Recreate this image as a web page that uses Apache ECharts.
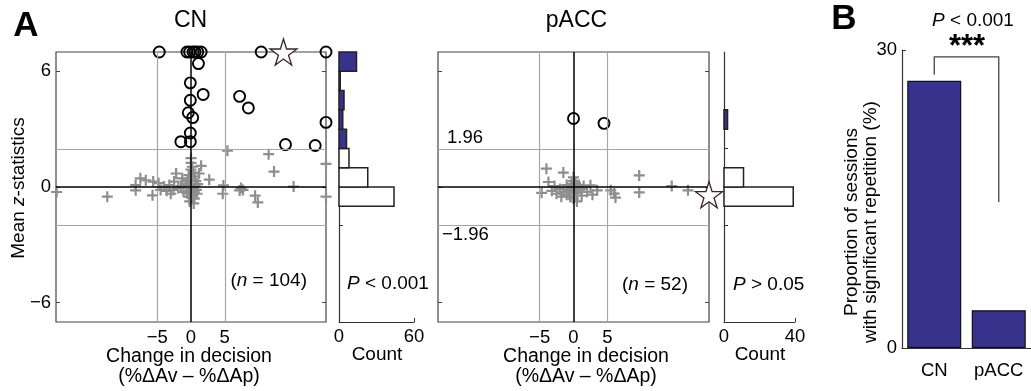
<!DOCTYPE html>
<html>
<head>
<meta charset="utf-8">
<script src="https://cdn.jsdelivr.net/npm/echarts@6/dist/echarts.min.js"></script>
<style>
  html, body { margin: 0; padding: 0; background: #fff; }
  #main { width: 1031px; height: 391px; }
</style>
</head>
<body>
<div id="main"></div>
<script>
// points are [change in decision, mean z]
const cnSig = [[-4.7, 7], [-0.6, 7], [-0.2, 7], [0.3, 7], [0.6, 7], [1.0, 7], [1.5, 7], [10.4, 7], [20, 7],
  [1.1, 6.4], [-0.1, 5.4], [1.8, 4.8], [-0.1, 4.5], [7.2, 4.7], [8.5, 4.1], [-0.4, 3.85], [0.25, 3.6],
  [20, 3.35], [-0.1, 2.8], [-1.5, 2.35], [-0.1, 2.35], [14.0, 2.2], [18.4, 2.15]];
const cnNonSig = [[-19.9, -0.26], [-12.4, -0.5], [-8.2, 0.1], [-8.2, -0.17], [-7.5, 0.45], [-6.7, 0.35],
  [-5.6, 0.28], [-5.7, -0.43], [-4.8, 0.2], [-4.5, -0.15], [-4.0, 0.02], [-3.6, -0.2], [-3.2, 0.1],
  [-3.0, -0.35], [-2.5, 0.28], [-2.6, -0.15], [-2.2, 0.7], [-1.9, -0.05], [-1.5, 0.05], [-1.3, 0.45],
  [-1.1, -0.25], [-0.8, 0.15], [-0.6, -0.32], [-0.5, 0.3], [-0.4, 0.4], [-0.3, 0.62], [-0.3, -0.5],
  [-0.2, 0.1], [-0.1, -0.2], [-0.2, -0.75], [0, 1.5], [0, 1.25], [0, 0.9], [0.2, 1.05], [0.3, 0.75],
  [0.1, 0.35], [0.5, 0.55], [0.7, 0.3], [0.6, 0.05], [0.3, -0.1], [0.5, -0.28], [0.2, -0.45],
  [0.5, -0.6], [0.4, -0.85], [0.8, -0.15], [0.9, -0.35], [1.0, 0.15], [1.2, 0.7], [1.5, 1.1],
  [2.7, 0.38], [4.8, 0.08], [4.7, -0.35], [5.4, 1.88], [7.2, -0.18], [7.4, -0.05], [7.7, -0.15],
  [9.5, -0.45], [9.9, -0.8], [11.5, 1.7], [12.3, 0.8], [15.2, 0.02], [20, 1.2], [20, -0.5]];
const cnStar = [[13.7, 7]];

const pacSig = [[0, 3.55], [4.5, 3.3]];
const pacNonSig = [[-4.0, 0.95], [-1.5, 0.75], [9.7, 0.6], [-3.7, 0.26], [14.5, 0.05], [16.9, -0.17],
  [9.7, -0.28], [5.5, -0.17], [6.0, -0.34], [6.2, -0.55], [-4.7, -0.3], [2.5, 0.09], [3.5, -0.17],
  [0, 0.5], [0, 0.3], [-0.3, 0.15], [0.3, 0.2], [-1, 0.1], [-2, -0.1], [-2.8, 0.05], [-3.2, -0.2],
  [-2.5, -0.35], [-1.5, -0.25], [-1, -0.4], [-0.5, -0.5], [0, -0.6], [0.5, -0.3], [1, -0.1],
  [1.5, 0.05], [2, -0.25], [1.2, -0.45], [0.2, -0.2], [-0.2, -0.05], [0.8, 0.1], [-1.8, -0.5],
  [2.8, -0.4], [0.5, -0.75], [-0.7, -0.15]];
const pacStar = [[20, -0.4]];

const zTicks = [-6, 0, 6];
const xTicks = [-5, 0, 5];
const xRefs = [-5, 5];
const zThresh = [-1.96, 1.96];

// histogram bins (lower edge, width 1) and counts
const cnHistLo = [-1, 0, 1, 2, 3, 4, 5, 6];
const cnHistCount = [44, 23, 8, 6, 3, 4, 1, 14];
const pacHistLo = [-1, 0, 3];
const pacHistCount = [39, 11, 2];

const groups = ['CN', 'pACC'];
const propSig = [26.9, 3.8];

const FONT = 'Arial, "Liberation Sans", Helvetica, sans-serif';
const BLUE = '#38328c';
const plusPath = 'path://M4,0 H6 V4 H10 V6 H6 V10 H4 V6 H0 V4 H4 Z';
const starPath = 'path://M50,0 L61,35 L98,35 L68,57 L79,91 L50,70 L21,91 L32,57 L2,35 L39,35 Z';

const minus = v => String(v).replace('-', '\u2212');

function scatterX(grid) {
  return {
    gridIndex: grid, type: 'value', min: -20, max: 20,
    axisLine: { show: false, onZero: false }, axisTick: { show: false }, splitLine: { show: false },
    axisLabel: { customValues: xTicks, formatter: minus, fontSize: 18.5, fontFamily: FONT, color: '#000', margin: 6 }
  };
}
function scatterY(grid, withLabels, right) {
  return {
    gridIndex: grid, type: 'value', min: -7, max: 7, position: right ? 'right' : 'left',
    axisLine: { show: false, onZero: false }, splitLine: { show: false },
    axisTick: { show: true, inside: true, length: 4, customValues: zTicks, lineStyle: { color: '#444' } },
    axisLabel: { show: withLabels, customValues: zTicks, formatter: minus, fontSize: 18.5, fontFamily: FONT, color: '#000', margin: 5 }
  };
}
function histX(grid, max) {
  return {
    gridIndex: grid, type: 'value', min: 0, max: max, interval: max,
    axisLine: { show: true, onZero: false, lineStyle: { color: '#333', width: 1.2 } },
    axisTick: { show: true, inside: true, length: 4, lineStyle: { color: '#333' } },
    splitLine: { show: false },
    axisLabel: { fontSize: 18.5, fontFamily: FONT, color: '#000', margin: 5 }
  };
}
function histY(grid) {
  return {
    gridIndex: grid, type: 'value', min: -7, max: 7,
    axisLine: { show: true, onZero: false, lineStyle: { color: '#333', width: 1.2 } },
    axisTick: { show: true, inside: true, length: 4, customValues: [-2, 2], lineStyle: { color: '#333' } },
    axisLabel: { show: false }, splitLine: { show: false }
  };
}

function refLines(xi, yi) {
  const gray = { color: '#a6a6a6', width: 1.2, type: 'solid' };
  const black = { color: '#000', width: 1.5, type: 'solid' };
  return {
    type: 'scatter', xAxisIndex: xi, yAxisIndex: yi, data: [], silent: true, z: 1,
    markLine: {
      silent: true, symbol: 'none', animation: false, label: { show: false },
      data: xRefs.map(v => ({ xAxis: v, lineStyle: gray }))
        .concat(zThresh.map(v => ({ yAxis: v, lineStyle: gray })))
        .concat([{ xAxis: 0, lineStyle: black }, { yAxis: 0, lineStyle: black }])
    }
  };
}
function points(xi, yi, nonSig, sig, star) {
  return [
    { type: 'scatter', xAxisIndex: xi, yAxisIndex: yi, data: nonSig, clip: false, silent: true, z: 3,
      symbol: plusPath, symbolSize: 11, itemStyle: { color: '#8e8e8e', opacity: 1 } },
    { type: 'scatter', xAxisIndex: xi, yAxisIndex: yi, data: sig, clip: false, silent: true, z: 4,
      symbol: 'circle', symbolSize: 11, itemStyle: { color: 'rgba(0,0,0,0)', borderColor: '#000', borderWidth: 1.9, opacity: 1 } },
    { type: 'scatter', xAxisIndex: xi, yAxisIndex: yi, data: star, clip: false, silent: true, z: 5,
      symbol: starPath, symbolSize: [27, 26], itemStyle: { color: '#fff', borderColor: '#3a2626', borderWidth: 1.3, opacity: 1 } }
  ];
}
function histSeries(xi, yi, lo, counts) {
  return {
    type: 'custom', xAxisIndex: xi, yAxisIndex: yi, silent: true, z: 3,
    data: lo.map((l, i) => [l, l + 1, counts[i]]),
    encode: { x: 2, y: [0, 1] },
    renderItem: function (params, api) {
      const l = api.value(0), h = api.value(1), c = api.value(2);
      const p1 = api.coord([0, h]);
      const p2 = api.coord([c, l]);
      return {
        type: 'rect',
        shape: { x: p1[0], y: p1[1], width: p2[0] - p1[0], height: p2[1] - p1[1] },
        style: { fill: l >= 2 ? BLUE : '#fff', stroke: '#222', lineWidth: 1.5 }
      };
    }
  };
}

function txt(x, y, text, size, extra) {
  return Object.assign({
    type: 'text', x: x, y: y, silent: true,
    style: Object.assign({ text: text, fontSize: size, fontFamily: FONT, fill: '#000',
      textAlign: 'center', textVerticalAlign: 'middle' }, (extra || {}).style || {})
  }, extra && extra.el ? extra.el : {});
}
function italicRich(size) {
  return { i: { fontStyle: 'italic', fontSize: size, fontFamily: FONT, fill: '#000' },
           r: { fontSize: size, fontFamily: FONT, fill: '#000' } };
}

const chart = echarts.init(document.getElementById('main'), null, { renderer: 'canvas' });

const option = {
  animation: false,
  backgroundColor: '#fff',
  grid: [
    { left: 56, top: 52, width: 270, height: 270, show: true, borderColor: '#444', borderWidth: 1.2 },
    { left: 339, top: 52, width: 75, height: 270 },
    { left: 438, top: 52, width: 271, height: 270, show: true, borderColor: '#444', borderWidth: 1.2 },
    { left: 724, top: 52, width: 71, height: 270 },
    { left: 902, top: 50, width: 137, height: 298 }
  ],
  xAxis: [
    scatterX(0), histX(1, 60), scatterX(2), histX(3, 40),
    { gridIndex: 4, type: 'category', data: groups,
      axisLine: { show: true, lineStyle: { color: '#333', width: 1.2 } },
      axisTick: { show: true, inside: true, alignWithLabel: true, length: 5, lineStyle: { color: '#333' } },
      axisLabel: { fontSize: 18.5, fontFamily: FONT, color: '#000', margin: 13 } }
  ],
  yAxis: [
    scatterY(0, true, false), scatterY(0, false, true), histY(1),
    scatterY(2, false, false), scatterY(2, false, true), histY(3),
    { gridIndex: 4, type: 'value', min: 0, max: 30, interval: 30,
      axisLine: { show: true, lineStyle: { color: '#333', width: 1.2 } },
      axisTick: { show: true, inside: true, length: 4, lineStyle: { color: '#333' } },
      splitLine: { show: false },
      axisLabel: { fontSize: 18.5, fontFamily: FONT, color: '#000', margin: 5 } }
  ],
  series: [
    refLines(0, 0),
    ...points(0, 0, cnNonSig, cnSig, cnStar),
    histSeries(1, 2, cnHistLo, cnHistCount),
    refLines(2, 3),
    ...points(2, 3, pacNonSig, pacSig, pacStar),
    histSeries(3, 5, pacHistLo, pacHistCount),
    { type: 'bar', xAxisIndex: 4, yAxisIndex: 6, data: propSig, barWidth: 54, silent: true,
      itemStyle: { color: BLUE, borderColor: '#111', borderWidth: 1.2 } }
  ]
};
chart.setOption(option);

// bracket over the two bars
const b1 = chart.convertToPixel({ gridIndex: 4 }, [0, 27.5]);
const b2 = chart.convertToPixel({ gridIndex: 4 }, [0, 29.3]);
const b3 = chart.convertToPixel({ gridIndex: 4 }, [1, 29.3]);
const b4 = chart.convertToPixel({ gridIndex: 4 }, [1, 14.7]);

chart.setOption({
  graphic: [
    txt(26, 26, 'A', 35, { style: { fontWeight: 'bold' } }),
    txt(844, 19, 'B', 35, { style: { fontWeight: 'bold' } }),
    txt(190.5, 21, 'CN', 23),
    txt(576.5, 21, 'pACC', 23),
    txt(19, 188, '{r|Mean }{i|z}{r|-statistics}', 19, { style: { rich: italicRich(19) }, el: { rotation: Math.PI / 2 } }),
    txt(189, 357, 'Change in decision', 19.5),
    txt(189, 377, '(%\u0394Av \u2013 %\u0394Ap)', 19.5),
    txt(586, 357, 'Change in decision', 19.5),
    txt(586, 377, '(%\u0394Av \u2013 %\u0394Ap)', 19.5),
    txt(377, 355, 'Count', 19),
    txt(760, 355, 'Count', 19),
    txt(307, 281, '{r|(}{i|n}{r| = 104)}', 19, { style: { rich: italicRich(19), textAlign: 'right' } }),
    txt(688, 285, '{r|(}{i|n}{r| = 52)}', 19, { style: { rich: italicRich(19), textAlign: 'right' } }),
    txt(347, 283.5, '{i|P}{r| < 0.001}', 19, { style: { rich: italicRich(19), textAlign: 'left' } }),
    txt(733, 285, '{i|P}{r| > 0.05}', 19, { style: { rich: italicRich(19), textAlign: 'left' } }),
    txt(447, 138, '1.96', 18.5, { style: { textAlign: 'left' } }),
    txt(442, 235, '\u22121.96', 18.5, { style: { textAlign: 'left' } }),
    txt(973, 21, '{i|P}{r| < 0.001}', 19, { style: { rich: italicRich(19) } }),
    txt(967, 47, '***', 31, { style: { fontWeight: 'bold' } }),
    txt(861, 222, 'Proportion of sessions\nwith significant repetition (%)', 19,
      { style: { lineHeight: 19 }, el: { rotation: Math.PI / 2 } }),
    { type: 'polyline', silent: true,
      shape: { points: [b1, b2, b3, b4] },
      style: { stroke: '#444', lineWidth: 1.3, fill: null } }
  ]
});
</script>
</body>
</html>
